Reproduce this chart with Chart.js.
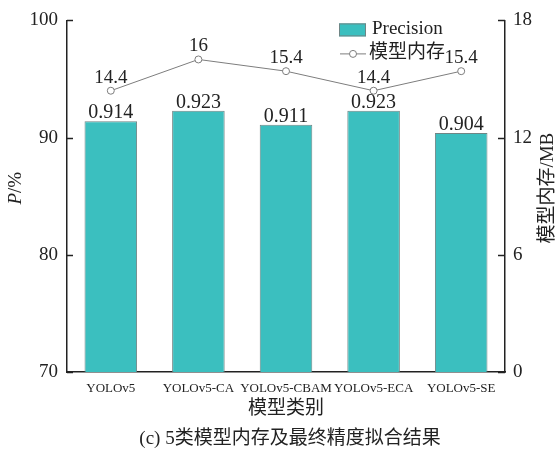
<!DOCTYPE html>
<html>
<head>
<meta charset="utf-8">
<script src="https://cdn.jsdelivr.net/npm/chart.js@4.4.1/dist/chart.umd.min.js"></script>
<style>
    html, body { margin: 0; padding: 0; background: #fff; }
</style>
</head>
<body>
<canvas id="chart" width="560" height="453"></canvas>
<script>
// ======== Data =========
const models = ['YOLOv5', 'YOLOv5-CA', 'YOLOv5-CBAM', 'YOLOv5-ECA', 'YOLOv5-SE'];
const precision = [0.914, 0.923, 0.911, 0.923, 0.904];
const memoryMB = [14.4, 16, 15.4, 14.4, 15.4];
const leftTicks = [70, 80, 90, 100];
const rightTicks = [0, 6, 12, 18];

const SERIF = "'Liberation Serif', 'Times New Roman', 'Noto Sans CJK SC', serif";
const TEXT = '#222';
const BAR_FILL = '#3bbfbf';
const BAR_EDGE = '#6f8585';
const LINE_COLOR = '#7d7d7d';

// ticks, labels, legend and titles drawn by hand
const decor = {
    id: 'decor',
    afterDatasetsDraw(chart) {
        const { ctx, chartArea: a, scales } = chart;
        ctx.save();

        // inward tick marks
        ctx.strokeStyle = TEXT;
        ctx.lineWidth = 1.5;
        leftTicks.forEach(v => {
            const y = Math.round(scales.y.getPixelForValue(v)) + 0.5;
            ctx.beginPath(); ctx.moveTo(a.left, y); ctx.lineTo(a.left + 6, y); ctx.stroke();
        });
        rightTicks.forEach(v => {
            const y = Math.round(scales.y1.getPixelForValue(v)) + 0.5;
            ctx.beginPath(); ctx.moveTo(a.right, y); ctx.lineTo(a.right - 7, y); ctx.stroke();
        });

        // value labels
        ctx.fillStyle = TEXT;
        ctx.textAlign = 'center';
        ctx.textBaseline = 'alphabetic';
        ctx.font = `20px ${SERIF}`;
        chart.getDatasetMeta(1).data.forEach((bar, i) => {
            ctx.fillText(precision[i].toFixed(3), bar.x, bar.y - 3);
        });
        ctx.font = `19px ${SERIF}`;
        chart.getDatasetMeta(0).data.forEach((pt, i) => {
            ctx.fillText(String(memoryMB[i]), pt.x, pt.y - 8);
        });

        // legend
        const lx = a.right - 166;
        ctx.fillStyle = BAR_FILL;
        ctx.fillRect(lx, a.top + 3, 27, 13);
        ctx.strokeStyle = BAR_EDGE;
        ctx.lineWidth = 1;
        ctx.strokeRect(lx + 0.5, a.top + 3.5, 26, 12);
        ctx.fillStyle = TEXT;
        ctx.textAlign = 'left';
        ctx.textBaseline = 'middle';
        ctx.font = `19px ${SERIF}`;
        ctx.fillText('Precision', lx + 33, a.top + 9);

        ctx.strokeStyle = LINE_COLOR;
        ctx.beginPath(); ctx.moveTo(lx + 1, a.top + 33.5); ctx.lineTo(lx + 27, a.top + 33.5); ctx.stroke();
        ctx.beginPath(); ctx.arc(lx + 14, a.top + 33.5, 3.5, 0, Math.PI * 2);
        ctx.fillStyle = '#fff'; ctx.fill(); ctx.stroke();
        ctx.fillStyle = TEXT;
        ctx.fillText('模型内存', lx + 30, a.top + 33);

        // axis titles
        const midY = (a.top + a.bottom) / 2 - 8;
        ctx.textBaseline = 'middle';
        ctx.save();
        ctx.translate(16, midY);
        ctx.rotate(-Math.PI / 2);
        ctx.font = `italic 19px ${SERIF}`;
        const wP = ctx.measureText('P').width;
        ctx.font = `19px ${SERIF}`;
        const wRest = ctx.measureText('/%').width;
        let x0 = -(wP + wRest) / 2;
        ctx.textAlign = 'left';
        ctx.font = `italic 19px ${SERIF}`;
        ctx.fillText('P', x0, 0);
        ctx.font = `19px ${SERIF}`;
        ctx.fillText('/%', x0 + wP, 0);
        ctx.restore();

        ctx.save();
        ctx.translate(548, midY);
        ctx.rotate(-Math.PI / 2);
        ctx.textAlign = 'center';
        ctx.font = `19px ${SERIF}`;
        ctx.fillText('模型内存/MB', 0, 0);
        ctx.restore();

        const midX = (a.left + a.right) / 2;
        ctx.textAlign = 'center';
        ctx.font = `19px ${SERIF}`;
        ctx.fillText('模型类别', midX, 409);
        ctx.fillText('(c) 5类模型内存及最终精度拟合结果', midX + 4, 439);

        ctx.restore();
    }
};

const ctx = document.getElementById('chart').getContext('2d');
new Chart(ctx, {
    data: {
        labels: models,
        datasets: [
            {
                type: 'line',
                label: '模型内存',
                data: memoryMB,
                yAxisID: 'y1',
                borderColor: LINE_COLOR,
                borderWidth: 1,
                pointRadius: 3.5,
                pointBackgroundColor: '#fff',
                pointBorderColor: LINE_COLOR,
                pointBorderWidth: 1,
                tension: 0,
                order: 0
            },
            {
                type: 'bar',
                label: 'Precision',
                data: precision.map(p => p * 100),
                yAxisID: 'y',
                backgroundColor: BAR_FILL,
                borderColor: BAR_EDGE,
                borderWidth: 1,
                barPercentage: 0.6,
                categoryPercentage: 1,
                order: 1
            }
        ]
    },
    options: {
        responsive: false,
        animation: false,
        devicePixelRatio: 1,
        layout: { padding: { top: 20, left: 0, right: 0, bottom: 0 } },
        plugins: {
            legend: { display: false },
            tooltip: { enabled: false }
        },
        scales: {
            x: {
                offset: true,
                grid: { display: false, drawTicks: false },
                border: { display: true, color: TEXT, width: 1.5 },
                ticks: { color: TEXT, font: { family: SERIF, size: 13 }, padding: 9, maxRotation: 0, autoSkip: false },
                afterFit: s => { s.height = 81; }
            },
            y: {
                position: 'left',
                min: 70,
                max: 100,
                grid: { display: false, drawTicks: false },
                border: { display: true, color: TEXT, width: 1.5 },
                ticks: { color: TEXT, font: { family: SERIF, size: 19 }, padding: 9 },
                afterBuildTicks: s => { s.ticks = leftTicks.map(v => ({ value: v })); },
                afterFit: s => { s.width = 67; }
            },
            y1: {
                position: 'right',
                min: 0,
                max: 18,
                grid: { display: false, drawTicks: false },
                border: { display: true, color: TEXT, width: 1.5 },
                ticks: { color: TEXT, font: { family: SERIF, size: 19 }, padding: 8 },
                afterBuildTicks: s => { s.ticks = rightTicks.map(v => ({ value: v })); },
                afterFit: s => { s.width = 55; }
            }
        }
    },
    plugins: [decor]
});
</script>
</body>
</html>
